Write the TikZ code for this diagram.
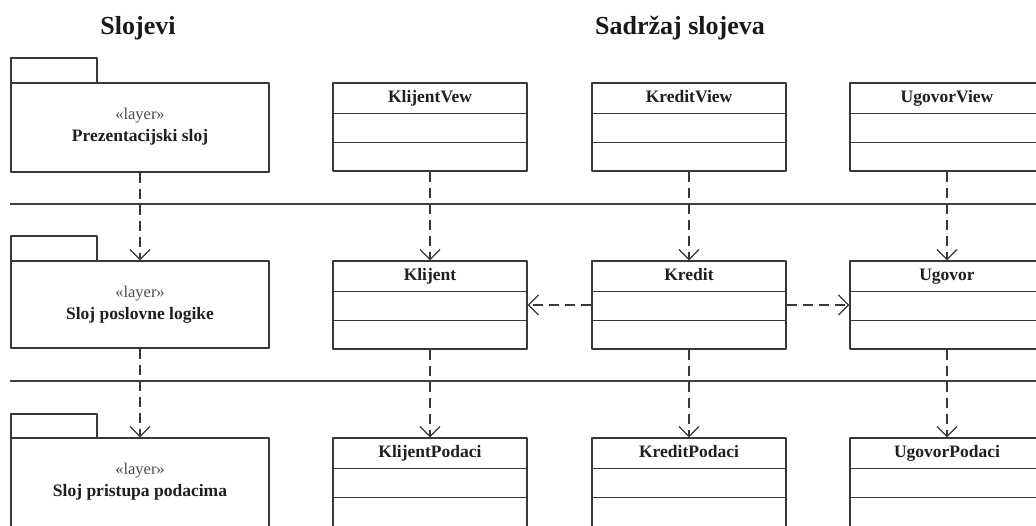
\documentclass[tikz,border=0pt]{standalone}
\usepackage{fontspec}
\setmainfont{Liberation Serif}
\usetikzlibrary{arrows.meta}

% UML class box: name, centre x, top y, box height, label
\newcommand\umlclass[5]{%
  \node[classbox, minimum height=#4pt] (#1) at (#2,#3+#4/2) {};
  \draw[ln] ([yshift=-31pt]#1.north west) -- ([yshift=-31pt]#1.north east);
  \draw[ln] ([yshift=-60pt]#1.north west) -- ([yshift=-60pt]#1.north east);
  \node[cname] (#1-name) at ([yshift=-20.5pt]#1.north) {#5};
}
% UML package: name, top y, body height, tab height, label
\newcommand\umlpkg[5]{%
  \draw[ln] (11,#2) -- (11,#2-#4) -- (97,#2-#4) -- (97,#2);
  \node[pkgbox, minimum height=#3pt] (#1) at (140,#2+#3/2) {};
  \node[stereo] (#1-st) at ([yshift=-37pt]#1.north) {«layer»};
  \node[pname] (#1-name) at ([yshift=-59pt]#1.north) {#5};
}

\begin{document}
\begin{tikzpicture}[x=1pt,y=-1pt,
  ln/.style={draw=black!78, line width=1.3pt, line join=round},
  classbox/.style={ln, rectangle, minimum width=194pt, inner sep=0pt, fill=white},
  pkgbox/.style={ln, rectangle, minimum width=258pt, inner sep=0pt, fill=white},
  cname/.style={anchor=base, inner sep=0pt, text=black!88, font=\fontsize{17.5}{20}\selectfont\bfseries},
  pname/.style={anchor=base, inner sep=0pt, text=black!88, font=\fontsize{17.5}{20}\selectfont\bfseries},
  stereo/.style={anchor=base, inner sep=0pt, text=black!70, font=\fontsize{16.5}{19}\selectfont},
  title/.style={anchor=base, inner sep=0pt, text=black!90, font=\fontsize{26}{30}\selectfont\bfseries},
  sep/.style={draw=black!75, line width=1.3pt},
  dep/.style={draw=black!78, line width=1.3pt, dash pattern=on 10pt off 6pt,
    -{Straight Barb[length=10pt,width=20pt,line width=1.3pt]}}
]
\useasboundingbox (0,0) rectangle (1036,525);
\clip (0,0) rectangle (1036,525);
\fill[white] (0,0) rectangle (1036,525);

% headings
\node[title] (t1) at (138,34) {Slojevi};
\node[title] (t2) at (680,34) {Sadržaj slojeva};

% layer separators
\coordinate (s1a) at (10,204);
\coordinate (s1b) at (1040,204);
\coordinate (s2a) at (10,381);
\coordinate (s2b) at (1040,381);
\draw[sep] (s1a) -- (s1b);
\draw[sep] (s2a) -- (s2b);

% layers
\umlpkg{p1}{83}{89}{25}{Prezentacijski sloj}
\umlpkg{p2}{261}{87}{25}{Sloj poslovne logike}
\umlpkg{p3}{438}{92}{24}{Sloj pristupa podacima}

% classes
\umlclass{kv}{430}{83}{88}{KlijentVew}
\umlclass{krv}{689}{83}{88}{KreditView}
\umlclass{uv}{947}{83}{88}{UgovorView}
\umlclass{kl}{430}{261}{88}{Klijent}
\umlclass{kr}{689}{261}{88}{Kredit}
\umlclass{ug}{947}{261}{88}{Ugovor}
\umlclass{klp}{430}{438}{96}{KlijentPodaci}
\umlclass{krp}{689}{438}{96}{KreditPodaci}
\umlclass{ugp}{947}{438}{96}{UgovorPodaci}

% dependencies
\draw[dep] (p1.south) -- (p2.north);
\draw[dep] (p2.south) -- (p3.north);
\draw[dep] (kv.south) -- (kl.north);
\draw[dep] (krv.south) -- (kr.north);
\draw[dep] (uv.south) -- (ug.north);
\draw[dep] (kl.south) -- (klp.north);
\draw[dep] (kr.south) -- (krp.north);
\draw[dep] (ug.south) -- (ugp.north);
\draw[dep] (kr.west) -- (kl.east);
\draw[dep] (kr.east) -- (ug.east -| ug.west);
\end{tikzpicture}
\end{document}
